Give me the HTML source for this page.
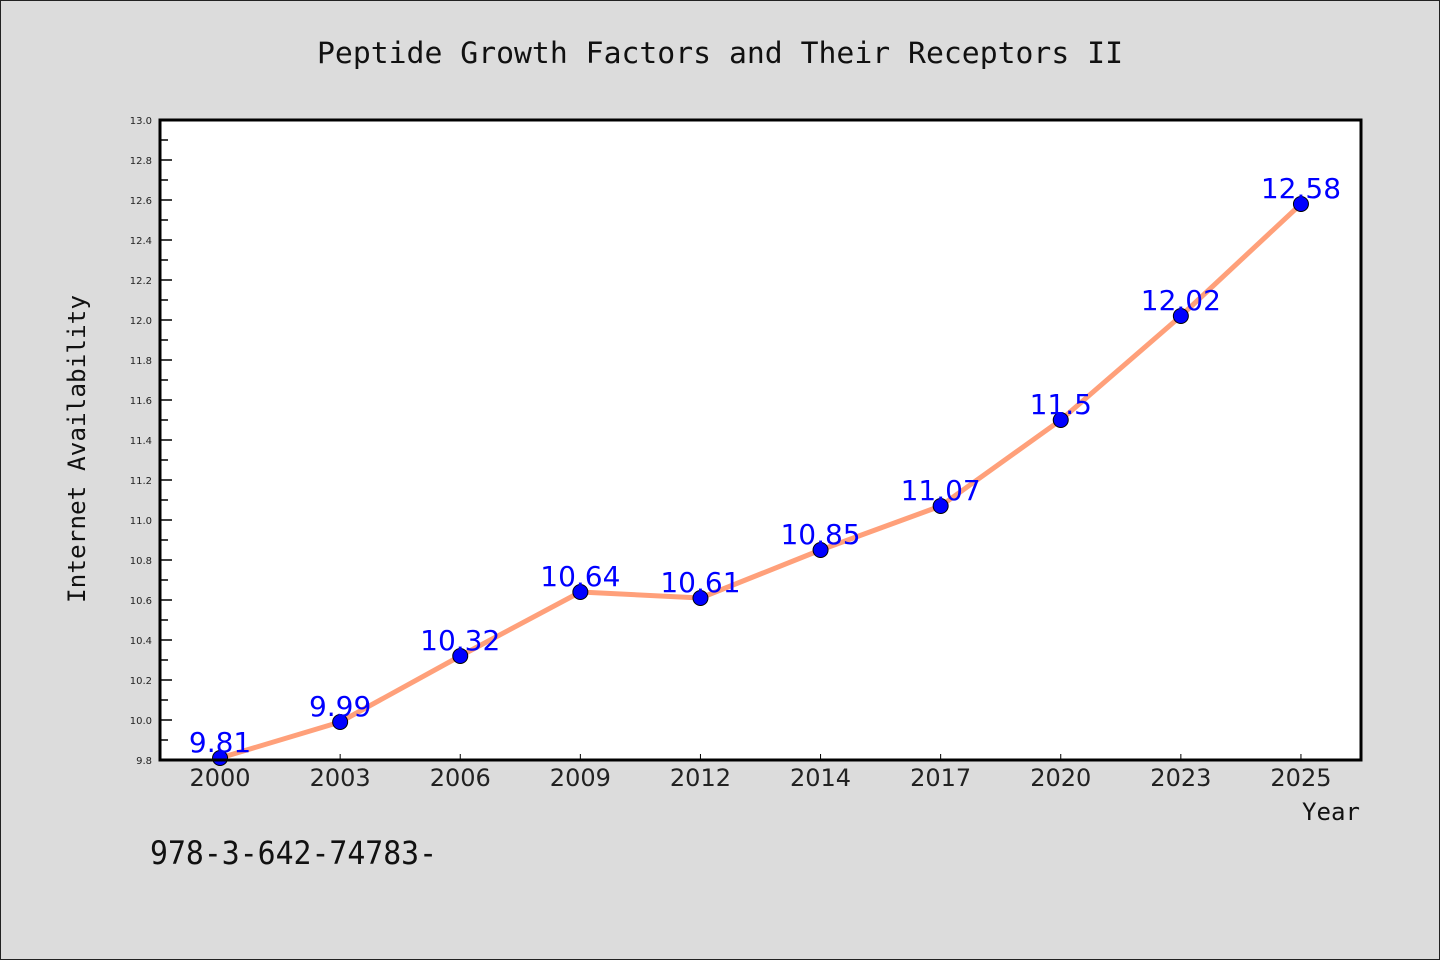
<!DOCTYPE html>
<html><head><meta charset="utf-8"><style>
html,body{margin:0;padding:0;background:#dcdcdc}
svg{display:block}
text{font-family:"DejaVu Sans","Liberation Sans",sans-serif}
.mono{font-family:"DejaVu Sans Mono","Liberation Mono",monospace}
</style></head><body>
<svg id="chart" width="1440" height="960" viewBox="0 0 1440 960">
<rect x="0.5" y="0.5" width="1439" height="959" fill="#dcdcdc" stroke="#222"/>
<text class="mono" x="720" y="63" font-size="29" text-anchor="middle" textLength="806" lengthAdjust="spacingAndGlyphs" fill="#111">Peptide Growth Factors and Their Receptors II</text>
<rect x="160" y="120" width="1201" height="640" fill="#fff"/>
<g id="yaxis"></g>
<g id="xaxis"></g>
<g id="series"></g>
<rect x="160" y="120" width="1201" height="640" fill="none" stroke="#000" stroke-width="3"/>
<text class="mono" transform="translate(85,449) rotate(-90)" font-size="24" text-anchor="middle" textLength="308" lengthAdjust="spacingAndGlyphs" fill="#111">Internet Availability</text>
<text class="mono" x="1360" y="820" font-size="24" text-anchor="end" textLength="58" lengthAdjust="spacingAndGlyphs" fill="#111">Year</text>
<text class="mono" x="150" y="864" font-size="32" textLength="287" lengthAdjust="spacingAndGlyphs" fill="#111">978-3-642-74783-</text>
</svg>
<script>
const categories = ["2000","2003","2006","2009","2012","2014","2017","2020","2023","2025"];
const values = [9.81, 9.99, 10.32, 10.64, 10.61, 10.85, 11.07, 11.5, 12.02, 12.58];
const valueLabels = ["9.81","9.99","10.32","10.64","10.61","10.85","11.07","11.5","12.02","12.58"];
const yTicks = [9.8,10.0,10.2,10.4,10.6,10.8,11.0,11.2,11.4,11.6,11.8,12.0,12.2,12.4,12.6,12.8,13.0];
const yMin = 9.8, yMax = 13.0;
const NS = "http://www.w3.org/2000/svg";
const L = 160, R = 1361, T = 120, B = 760;
function yScale(v){ return B - (v - yMin) / (yMax - yMin) * (B - T); }
function xScale(i){ const step = (R - L) / categories.length; return L + step * (i + 0.5); }
function mk(tag, attrs, parent){ const e = document.createElementNS(NS, tag); for (const k in attrs) e.setAttribute(k, attrs[k]); parent.appendChild(e); return e; }
const ya = document.getElementById('yaxis');
yTicks.forEach((t, i) => {
  const y = yScale(t);
  const tk = mk('line', {x1: L, x2: L + 12, y1: y, y2: y, stroke: '#000', 'stroke-width': 1.5}, ya);
  
  
  const lb = mk('text', {x: 152, y: y + 4, 'font-size': 10, 'text-anchor': 'end', fill: '#222'}, ya);
  lb.textContent = t.toFixed(1);
  
  
  if (i < yTicks.length - 1) {
    const ym = yScale(t + 0.1);
    const mt = mk('line', {x1: L, x2: L + 8, y1: ym, y2: ym, stroke: '#000', 'stroke-width': 1.5}, ya);
    
    
  }
});
const xa = document.getElementById('xaxis');
categories.forEach((c, i) => {
  const x = xScale(i);
  const tk = mk('line', {x1: x, x2: x, y1: B, y2: B - 6, stroke: '#000', 'stroke-width': 1}, xa);
  
  
  const lb = mk('text', {x: x, y: 786, 'font-size': 24, 'text-anchor': 'middle', fill: '#222'}, xa);
  lb.textContent = c;
  
  
});
const sg = document.getElementById('series');
const pts = values.map((v, i) => xScale(i) + ',' + yScale(v)).join(' ');
const pl = mk('polyline', {points: pts, fill: 'none', stroke: '#ffa07a', 'stroke-width': 5, 'stroke-linejoin': 'round'}, sg);


values.forEach((v, i) => {
  const c = mk('circle', {cx: xScale(i), cy: yScale(v), r: 7.5, fill: '#0000ff', stroke: '#000', 'stroke-width': 1}, sg);
  
  
});
values.forEach((v, i) => {
  const t = mk('text', {x: xScale(i), y: yScale(v) - 6, 'font-size': 28, 'text-anchor': 'middle', fill: '#0000ff'}, sg);
  t.textContent = valueLabels[i];
  
  
});
</script>
</body></html>
